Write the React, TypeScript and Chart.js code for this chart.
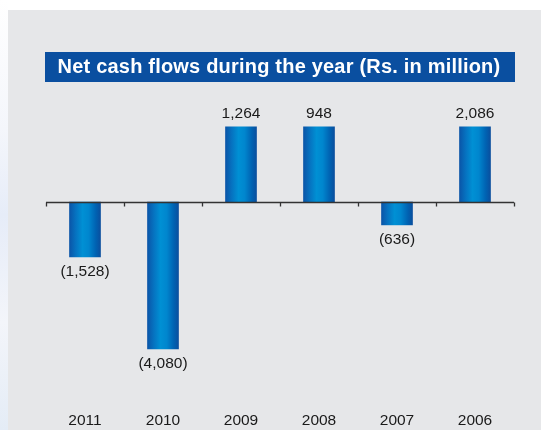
import React, { useEffect, useRef } from "react";
import { Chart, registerables } from "chart.js";

Chart.register(...registerables);

const titleText = "Net cash flows during the year (Rs. in million)";
const years = ["2011", "2010", "2009", "2008", "2007", "2006"];
// values printed on the chart
const printedValues = [-1528, -4080, 1264, 948, -636, 2086];
// bar heights as drawn in the picture (the positive bars are all drawn at the same height)
const barValues = [-1528, -4080, 2086, 2086, -636, 2086];
const yMin = -5000;
const yMax = 3000;

const fmt = (v: number) => {
  const s = Math.abs(v).toLocaleString("en-US");
  return v < 0 ? `(${s})` : s;
};

const FONT = "'Liberation Sans', Arial, sans-serif";

const decorPlugin = {
  id: "decor",
  beforeDraw(chart: any) {
    const { ctx, width, height } = chart;
    ctx.save();
    ctx.fillStyle = "#ffffff";
    ctx.fillRect(0, 0, width, height);
    const g = ctx.createLinearGradient(0, 0, 0, height);
    g.addColorStop(0, "#ffffff");
    g.addColorStop(0.3, "#f4f6fb");
    g.addColorStop(0.5, "#e6ecf8");
    g.addColorStop(0.75, "#f3f5fa");
    g.addColorStop(1, "#e4ecf6");
    ctx.fillStyle = g;
    ctx.fillRect(0, 0, 8, height);
    ctx.fillStyle = "#e6e7e9";
    ctx.fillRect(8, 10, width - 8, height - 10);
    // title banner
    ctx.fillStyle = "#0a4fa0";
    ctx.fillRect(45, 52, 470, 30);
    ctx.fillStyle = "#ffffff";
    ctx.font = `bold 20px ${FONT}`;
    try { (ctx as any).letterSpacing = "0.2px"; } catch (e) {}
    ctx.textAlign = "center";
    ctx.textBaseline = "middle";
    ctx.fillText(titleText, 279, 67.5);
    try { (ctx as any).letterSpacing = "0px"; } catch (e) {}
    ctx.restore();
  },
  afterDatasetsDraw(chart: any) {
    const { ctx, scales, chartArea } = chart;
    const x = scales.x;
    const y = scales.y;
    const zeroY = Math.round(y.getPixelForValue(0)) + 0.5;
    ctx.save();
    try { (ctx as any).letterSpacing = "0px"; } catch (e) {}
    ctx.strokeStyle = "#333333";
    ctx.lineWidth = 1.3;
    ctx.beginPath();
    ctx.moveTo(chartArea.left, zeroY);
    ctx.lineTo(chartArea.right, zeroY);
    const step = (chartArea.right - chartArea.left) / years.length;
    for (let i = 0; i <= years.length; i++) {
      const tx = Math.round(chartArea.left + i * step) + 0.5;
      ctx.moveTo(tx, zeroY);
      ctx.lineTo(tx, zeroY + 4);
    }
    ctx.stroke();

    ctx.fillStyle = "#1a1a1a";
    ctx.font = `15.5px ${FONT}`;
    ctx.textAlign = "center";
    const meta = chart.getDatasetMeta(0);
    meta.data.forEach((bar: any, i: number) => {
      const v = barValues[i];
      if (v >= 0) {
        ctx.textBaseline = "alphabetic";
        ctx.fillText(fmt(printedValues[i]), bar.x, bar.y - 9);
      } else {
        ctx.textBaseline = "middle";
        ctx.fillText(fmt(printedValues[i]), bar.x, bar.y + 15);
      }
    });
    ctx.textBaseline = "middle";
    years.forEach((yr, i) => {
      ctx.fillText(yr, x.getPixelForValue(i), 421);
    });
    ctx.restore();
  },
};

export default function App() {
  const ref = useRef<HTMLCanvasElement | null>(null);
  useEffect(() => {
    if (!ref.current) return;
    const chart = new Chart(ref.current, {
      type: "bar",
      data: {
        labels: years,
        datasets: [
          {
            data: barValues,
            barThickness: 31,
            borderWidth: 0,
            backgroundColor: (c: any) => {
              const ch = c.chart;
              if (!ch.chartArea || c.dataIndex === undefined) return "#0070c0";
              const cx = ch.scales.x.getPixelForValue(c.dataIndex);
              const g = ch.ctx.createLinearGradient(cx - 15.5, 0, cx + 15.5, 0);
              g.addColorStop(0, "#0a55a8");
              g.addColorStop(0.2, "#0672c0");
              g.addColorStop(0.42, "#0090d4");
              g.addColorStop(0.62, "#0086ce");
              g.addColorStop(0.85, "#0062b2");
              g.addColorStop(1, "#0a4f9e");
              return g;
            },
          },
        ],
      },
      options: {
        responsive: false,
        animation: false,
        layout: { padding: { left: 46, right: 27, top: 94, bottom: 48 } },
        plugins: { legend: { display: false }, title: { display: false }, tooltip: { enabled: false } },
        scales: {
          x: { display: false },
          y: { display: false, min: yMin, max: yMax },
        },
      },
      plugins: [decorPlugin],
    });
    return () => chart.destroy();
  }, []);
  return (
    <div style={{ position: "fixed", left: 0, top: 0, width: 541, height: 430 }}>
      <canvas ref={ref} width={541} height={430} style={{ width: 541, height: 430 }} />
    </div>
  );
}
